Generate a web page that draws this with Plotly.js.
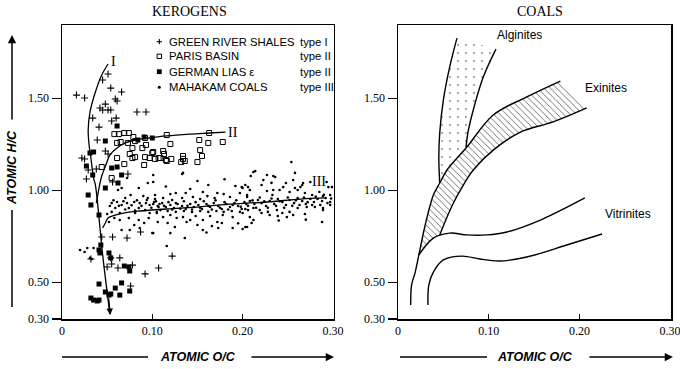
<!DOCTYPE html>
<html><head><meta charset="utf-8">
<script src="https://cdn.plot.ly/plotly-3.0.1.min.js"></script>
<style>html,body{margin:0;padding:0;background:#fff}#c{width:680px;height:369px}</style>
</head><body><div id="c"></div>
<script>
// ---------- KEROGENS data (atomic O/C, atomic H/C) ----------
const greenX = [0.051,0.045,0.054,0.066,0.016,0.025,0.059,0.061,0.048,0.042,0.045,0.051,0.054,0.083,0.093,0.034,0.060,0.055,0.041,
  0.039,0.025,0.029,0.038,0.051,0.027,0.073,0.056,0.022,0.048,
  0.044,0.056,0.072,0.054,0.064,0.055,0.062,0.078,0.050,0.092,0.107,0.076,0.032,0.122,0.087];
const greenY = [1.632,1.599,1.555,1.534,1.517,1.501,1.496,1.485,1.468,1.447,1.436,1.436,1.436,1.425,1.425,1.392,1.392,1.376,1.343,
  1.273,1.170,1.110,1.115,1.197,1.061,1.088,1.045,1.175,1.213,
  0.746,0.746,0.740,0.632,0.632,0.599,0.577,0.593,0.583,0.545,0.577,0.479,0.626,0.642,0.773];

const parisX = [0.058,0.063,0.069,0.074,0.079,0.092,0.065,0.073,0.081,0.089,0.078,0.101,0.097,0.107,0.061,0.069,0.078,0.044,0.091,0.055,
  0.116,0.163,0.178,0.152,0.162,0.120,0.153,0.155,0.150,0.100,0.112,0.113,0.109,0.103,0.115,0.116,0.121,0.134,0.134,0.132,0.136,
  0.093,0.081,0.092,0.075,0.061];
const parisY = [1.305,1.305,1.311,1.311,1.289,1.284,1.262,1.257,1.267,1.229,1.229,1.208,1.175,1.175,1.175,1.142,1.175,1.126,1.137,1.066,
  1.300,1.311,1.262,1.273,1.257,1.251,1.218,1.186,1.153,1.202,1.213,1.197,1.175,1.170,1.164,1.159,1.170,1.186,1.170,1.153,1.159,
  1.246,1.180,1.180,1.197,1.257];

const liasX = [0.061,0.084,0.091,0.100,0.031,0.027,0.061,0.062,0.035,0.048,0.034,0.055,0.066,0.048,0.029,0.032,0.041,
  0.041,0.043,0.042,0.052,0.054,0.069,0.074,0.075,0.041,0.048,0.054,0.059,0.066,0.064,0.075,0.032,0.035,0.039,0.041,0.052];
const liasY = [1.349,1.273,1.289,1.284,1.202,1.132,1.126,1.039,1.208,1.267,1.083,1.121,1.083,1.012,0.974,0.920,0.865,
  0.675,0.702,0.659,0.659,0.632,0.588,0.583,0.561,0.490,0.447,0.436,0.468,0.496,0.430,0.452,0.414,0.403,0.398,0.403,0.430];

const mahakamX = [0.055,0.061,0.066,0.072,0.080,0.086,0.094,0.097,0.102,0.107,0.059,0.074,0.085,0.092,0.066,0.085,0.072,0.055,0.064,0.081,
  0.097,0.105,0.052,0.058,0.064,0.074,0.085,0.096,0.091,0.080,0.066,0.075,0.086,0.100,0.028,0.025,0.035,0.031,0.020,0.033,
  0.050,0.053,0.070,0.090,0.103,0.076,0.062,0.095,0.101,0.134,
  0.133,0.101,0.162,0.192,0.203,0.179,0.172,0.156,0.142,0.137,0.126,0.120,0.112,0.103,0.122,0.133,0.145,0.153,0.161,0.169,0.186,0.197,0.205,
  0.101,0.106,0.111,0.115,0.120,0.124,0.128,0.133,0.137,0.142,0.146,0.151,0.155,0.160,0.164,0.168,0.173,0.177,0.182,0.186,0.191,0.195,0.199,0.204,
  0.109,0.117,0.126,0.135,0.144,0.153,0.162,0.171,0.179,0.188,0.197,0.206,
  0.105,0.112,0.120,0.127,0.134,0.142,0.148,0.156,0.164,0.172,0.178,0.189,0.200,0.106,0.117,0.138,0.150,0.166,0.177,0.101,0.120,0.156,0.189,0.200,0.173,0.205,0.136,0.116,
  0.212,0.227,0.234,0.258,0.256,0.223,0.221,0.266,0.245,0.241,0.227,0.233,0.208,0.205,0.199,0.252,0.261,0.269,0.295,0.297,0.289,0.277,
  0.254,0.214,0.209,0.236,0.267,0.264,0.206,0.200,0.234,0.248,0.258,0.275,0.293,0.299,
  0.208,0.213,0.217,0.221,0.226,0.230,0.235,0.239,0.244,0.248,0.252,0.257,0.261,0.266,0.270,0.275,0.279,0.283,0.288,0.292,0.297,
  0.203,0.212,0.219,0.228,0.238,0.244,0.252,0.261,0.271,0.280,0.289,0.297,0.230,0.239,0.249,0.256,0.208,0.212,0.210,0.203,0.288,0.289,0.221,0.269,
  0.063,0.068,0.077,0.083,0.088,0.093,0.099,0.057,0.070,0.081,0.095,
  0.104,0.108,0.113,0.118,0.122,0.126,0.131,0.135,0.139,0.144,0.148,0.153,0.157,0.162,0.166,0.170,0.175,0.180,0.184,0.189,0.193,0.198,0.202,
  0.206,0.211,0.215,0.219,0.224,0.228,0.232,0.237,0.241,0.246,0.250,0.255,0.259,0.263,0.268,0.272,0.277,0.281,0.286,0.290,0.294,0.298,
  0.115,0.150,0.180,0.125,0.160,0.195,0.240,0.270,0.285,0.232];
const mahakamY = [0.930,0.936,0.920,0.930,0.936,0.930,0.947,0.920,0.936,0.909,0.903,0.903,0.903,0.892,1.012,1.012,1.066,0.882,0.876,0.876,
  0.876,0.882,0.827,0.849,0.838,0.849,0.838,0.849,0.822,0.811,0.784,0.784,0.795,0.767,0.686,0.664,0.686,0.632,0.675,0.626,
  0.871,0.914,0.958,0.968,0.974,0.974,1.001,1.039,1.045,1.094,
  1.088,1.083,1.028,1.023,1.028,0.979,0.985,0.990,1.007,0.985,0.985,0.979,0.958,0.952,0.947,0.958,0.963,0.952,0.968,0.958,0.963,0.985,0.963,
  0.925,0.914,0.930,0.909,0.920,0.903,0.925,0.914,0.898,0.925,0.909,0.920,0.898,0.925,0.909,0.930,0.914,0.898,0.925,0.909,0.930,0.914,0.898,0.925,
  0.892,0.887,0.882,0.887,0.882,0.887,0.882,0.887,0.882,0.887,0.882,0.892,
  0.876,0.854,0.865,0.849,0.854,0.838,0.860,0.838,0.860,0.827,0.865,0.854,0.876,0.827,0.822,0.827,0.811,0.805,0.822,0.767,0.767,0.784,0.795,0.789,0.795,0.800,0.740,0.697,
  1.099,1.083,1.077,1.094,1.055,1.055,1.028,1.028,1.017,1.001,0.996,0.974,1.001,0.974,1.017,0.990,1.001,0.985,1.017,0.974,0.968,0.974,
  1.153,1.104,1.077,1.072,1.039,1.017,1.017,1.012,1.001,1.039,1.012,1.045,1.045,1.017,
  0.941,0.925,0.947,0.930,0.914,0.941,0.925,0.952,0.936,0.920,0.947,0.930,0.958,0.941,0.925,0.952,0.936,0.952,0.941,0.958,0.936,
  0.898,0.903,0.892,0.882,0.892,0.876,0.882,0.903,0.909,0.909,0.903,0.920,0.865,0.860,0.854,0.865,0.854,0.838,0.822,0.800,0.827,0.892,0.876,0.871,
  0.915,0.940,0.918,0.945,0.915,0.930,0.905,0.945,0.895,0.890,0.958,
  0.940,0.925,0.915,0.935,0.895,0.930,0.900,0.940,0.915,0.895,0.935,0.905,0.940,0.915,0.895,0.945,0.905,0.935,0.895,0.920,0.945,0.910,0.935,
  0.915,0.945,0.905,0.960,0.940,0.905,0.955,0.915,0.940,0.905,0.960,0.915,0.945,0.920,0.960,0.935,0.920,0.965,0.920,0.975,0.930,0.955,
  1.020,1.050,1.060,0.800,0.770,0.820,0.835,0.840,0.990,1.040];

// evolution paths
const pathIX = [0.051,0.044,0.037,0.031,0.029,0.030,0.032,0.035,0.037,0.045,0.053];
const pathIY = [1.686,1.626,1.534,1.425,1.327,1.246,1.175,1.066,1.028,0.650,0.327];
const pathIIX = [0.038,0.041,0.044,0.049,0.053,0.061,0.070,0.081,0.097,0.116,0.142,0.163,0.181];
const pathIIY = [0.930,1.012,1.077,1.142,1.191,1.229,1.257,1.273,1.284,1.295,1.305,1.311,1.316];
const pathIIIX = [0.045,0.048,0.051,0.056,0.068,0.086,0.116,0.153,0.175,0.227,0.264,0.291];
const pathIIIY = [0.795,0.822,0.849,0.860,0.876,0.887,0.898,0.909,0.920,0.936,0.952,0.958];

// ---------- COALS bands ----------
const algLeftX = [0.065,0.057,0.050,0.046,0.045,0.046];
const algLeftY = [1.827,1.670,1.490,1.311,1.180,1.039];
const algRightX = [0.108,0.094,0.083,0.077,0.075];
const algRightY = [1.767,1.615,1.436,1.311,1.235];
const exUpX = [0.179,0.142,0.105,0.076,0.054,0.046,0.039,0.030,0.023,0.019,0.015,0.014];
const exUpY = [1.593,1.507,1.409,1.235,1.110,1.039,0.974,0.811,0.648,0.555,0.485,0.376];
const exLowX = [0.208,0.171,0.135,0.105,0.083,0.072,0.060,0.046];
const exLowY = [1.447,1.371,1.316,1.218,1.110,1.028,0.920,0.757];
const vitUpX = [0.023,0.039,0.057,0.076,0.098,0.120,0.157,0.206];
const vitUpY = [0.648,0.740,0.767,0.757,0.757,0.773,0.838,0.958];
const vitLowX = [0.033,0.034,0.039,0.050,0.071,0.090,0.112,0.142,0.186,0.225];
const vitLowY = [0.376,0.485,0.555,0.621,0.642,0.626,0.615,0.637,0.702,0.762];

const ticksY = [0.30,0.50,1.00,1.50];
const ticksYText = ['0.30','0.50','1.00','1.50'];
const ticksX = [0,0.10,0.20,0.30];
const ticksXText = ['0','0.10','0.20','0.30'];

const legendNames = ['GREEN RIVER SHALES','PARIS BASIN','GERMAN LIAS ε','MAHAKAM COALS'];
const legendTypes = ['type I','type II','type II','type III'];

// ---------- build ----------
const W=680,H=369;
const P=px=>px/W, Q=py=>1-py/H;
const serif='Liberation Serif, Times New Roman, serif';
const sans='Liberation Sans, Arial, sans-serif';
const K='#000';

const traces=[];
traces.push({x:mahakamX,y:mahakamY,type:'scatter',mode:'markers',xaxis:'x',yaxis:'y',marker:{symbol:'circle',size:2.6,color:K},hoverinfo:'skip'});
traces.push({x:greenX,y:greenY,type:'scatter',mode:'markers',xaxis:'x',yaxis:'y',marker:{symbol:'cross-thin',size:5,color:K,line:{width:1.1,color:K}},hoverinfo:'skip'});
traces.push({x:parisX,y:parisY,type:'scatter',mode:'markers',xaxis:'x',yaxis:'y',marker:{symbol:'square-open',size:5,color:K,line:{width:1}},hoverinfo:'skip'});
traces.push({x:liasX,y:liasY,type:'scatter',mode:'markers',xaxis:'x',yaxis:'y',marker:{symbol:'square',size:5,color:K},hoverinfo:'skip'});
[[pathIX,pathIY],[pathIIX,pathIIY],[pathIIIX,pathIIIY]].forEach(p=>{
  traces.push({x:p[0],y:p[1],type:'scatter',mode:'lines',xaxis:'x',yaxis:'y',line:{color:K,width:1.3,shape:'spline'},hoverinfo:'skip'});
});

// coal fills
const algPolyX = algLeftX.concat([0.054], algRightX.slice().reverse());
const algPolyY = algLeftY.concat([1.110], algRightY.slice().reverse());
traces.push({x:algPolyX,y:algPolyY,type:'scatter',mode:'none',fill:'toself',xaxis:'x2',yaxis:'y2',
  fillcolor:'rgba(255,255,255,0)',fillpattern:{shape:'.',fgcolor:'#999',bgcolor:'#fff',size:8,solidity:0.06},hoverinfo:'skip'});
const exPolyX = exUpX.slice(0,9).concat(vitUpX.slice(1,2), exLowX.slice().reverse());
const exPolyY = exUpY.slice(0,9).concat(vitUpY.slice(1,2), exLowY.slice().reverse());
traces.push({x:exPolyX,y:exPolyY,type:'scatter',mode:'none',fill:'toself',xaxis:'x2',yaxis:'y2',
  fillcolor:'rgba(255,255,255,0)',fillpattern:{shape:'\\',fgcolor:'#666',bgcolor:'#fff',size:4.5,solidity:0.2},hoverinfo:'skip'});
[[algLeftX,algLeftY],[algRightX,algRightY],[exUpX,exUpY],[exLowX,exLowY],[vitUpX,vitUpY],[vitLowX,vitLowY]].forEach(p=>{
  traces.push({x:p[0],y:p[1],type:'scatter',mode:'lines',xaxis:'x2',yaxis:'y2',line:{color:K,width:1.4,shape:'spline'},hoverinfo:'skip'});
});

const yDom=[Q(319),Q(25)];
const XMAX=0.301;
function xa(dom,anchor){return {domain:dom,anchor:anchor,range:[0,XMAX],tickmode:'array',tickvals:ticksX,ticktext:ticksXText,
  ticks:'inside',ticklen:5,tickwidth:1.4,tickcolor:K,showline:true,mirror:true,linewidth:1.5,linecolor:K,showgrid:false,zeroline:false,
  ticklabeloverflow:'allow',tickfont:{family:serif,size:12,color:K},fixedrange:true};}
function ya(anchor){return {domain:yDom,anchor:anchor,range:[0.30,1.898],tickmode:'array',tickvals:ticksY,ticktext:ticksYText,
  ticks:'outside',ticklen:9,tickwidth:1.4,tickcolor:K,showline:true,mirror:true,linewidth:1.5,linecolor:K,showgrid:false,zeroline:false,
  ticklabeloverflow:'allow',tickfont:{family:serif,size:12,color:K},fixedrange:true};}

const ann=[];
const shapes=[];
const txt=(px,py,t,font,extra)=>Object.assign({xref:'paper',yref:'paper',x:P(px),y:Q(py),text:t,showarrow:false,xanchor:'center',yanchor:'middle',font:font},extra||{});
// titles
ann.push(txt(189,11,'KEROGENS',{family:serif,size:14,color:K}));
ann.push(txt(540,11,'COALS',{family:serif,size:14,color:K}));
// axis labels
const bi=t=>'<b><i>'+t+'</i></b>';
ann.push(txt(198,357,bi('ATOMIC O/C'),{family:sans,size:12.5,color:K}));
ann.push(txt(535,357,bi('ATOMIC O/C'),{family:sans,size:12.5,color:K}));
ann.push(txt(12,168,bi('ATOMIC H/C'),{family:sans,size:12.5,color:K},{textangle:-90}));
// arrows
const arr=(tx,ty,ax,ay)=>({xref:'paper',yref:'paper',x:P(tx),y:Q(ty),ax:ax,ay:ay,text:'',showarrow:true,arrowhead:2,arrowsize:1.1,arrowwidth:1.5,arrowcolor:K});
ann.push(arr(12,35,0,86));
ann.push(arr(334,357,-84,0));
ann.push(arr(673,357,-85,0));
const ln=(x0,y0,x1,y1)=>({type:'line',xref:'paper',yref:'paper',x0:P(x0),y0:Q(y0),x1:P(x1),y1:Q(y1),line:{color:K,width:1.5}});
shapes.push(ln(12,210,12,307));
shapes.push(ln(62,357,148,357));
shapes.push(ln(400,357,487,357));
// curve I arrowhead
ann.push({xref:'x',yref:'y',axref:'x',ayref:'y',x:0.0535,y:0.322,ax:0.0515,ay:0.42,text:'',showarrow:true,arrowhead:2,arrowsize:1,arrowwidth:1.3,arrowcolor:K});
// path labels
const dl=(xr,yr,x,y,t,font)=>({xref:xr,yref:yr,x:x,y:y,text:t,showarrow:false,xanchor:'center',yanchor:'middle',font:font});
ann.push(dl('x','y',0.0575,1.700,'I',{family:serif,size:14,color:K}));
ann.push(dl('x','y',0.189,1.316,'II',{family:serif,size:14,color:K}));
ann.push(dl('x','y',0.285,1.045,'III',{family:serif,size:14,color:K}));
// coal labels
ann.push(dl('x2','y2',0.1345,1.843,'Alginites',{family:sans,size:12,color:K}));
ann.push(dl('x2','y2',0.229,1.555,'Exinites',{family:sans,size:12,color:K}));
ann.push(dl('x2','y2',0.254,0.871,'Vitrinites',{family:sans,size:12,color:K}));
// legend
const rows=[41.7,56.3,71.7,87.3];
legendNames.forEach((n,i)=>{
  ann.push(txt(167,rows[i],n,{family:sans,size:11.3,color:K},{xanchor:'left'}));
  ann.push(txt(297.5,rows[i],legendTypes[i],{family:sans,size:11.3,color:K},{xanchor:'left'}));
});
const sx=159.3;
shapes.push({type:'line',xref:'paper',yref:'paper',x0:P(sx-2.6),x1:P(sx+2.6),y0:Q(rows[0]),y1:Q(rows[0]),line:{color:K,width:1.1}});
shapes.push({type:'line',xref:'paper',yref:'paper',x0:P(sx),x1:P(sx),y0:Q(rows[0]-2.6),y1:Q(rows[0]+2.6),line:{color:K,width:1.1}});
shapes.push({type:'rect',xref:'paper',yref:'paper',x0:P(sx-2.2),x1:P(sx+2.2),y0:Q(rows[1]-2.2),y1:Q(rows[1]+2.2),line:{color:K,width:1},fillcolor:'#fff'});
shapes.push({type:'rect',xref:'paper',yref:'paper',x0:P(sx-2.4),x1:P(sx+2.4),y0:Q(rows[2]-2.4),y1:Q(rows[2]+2.4),line:{color:K,width:0},fillcolor:K});
shapes.push({type:'circle',xref:'paper',yref:'paper',x0:P(sx-1.5),x1:P(sx+1.5),y0:Q(rows[3]-1.5),y1:Q(rows[3]+1.5),line:{color:K,width:0},fillcolor:K});

const layout={width:W,height:H,margin:{l:0,r:0,t:0,b:0},paper_bgcolor:'#fff',plot_bgcolor:'#fff',showlegend:false,
  xaxis:xa([P(62),P(62+XMAX*903)],'y'),yaxis:ya('x'),xaxis2:xa([P(398),P(398+XMAX*907)],'y2'),yaxis2:ya('x2'),
  annotations:ann,shapes:shapes,hovermode:false};
Plotly.newPlot('c',traces,layout,{staticPlot:true,displayModeBar:false});
</script></body></html>
